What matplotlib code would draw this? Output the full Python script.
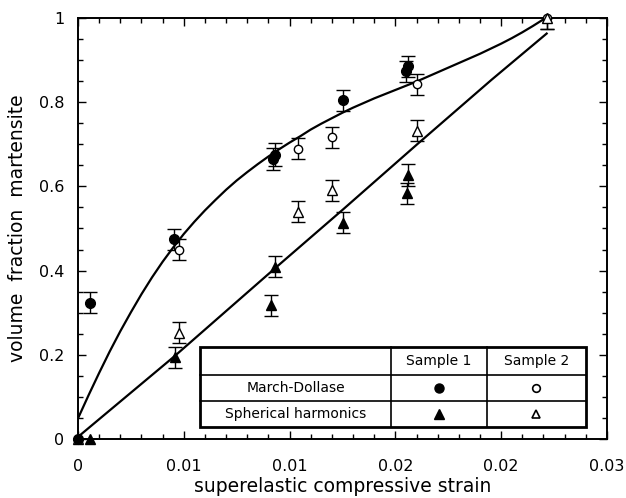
import matplotlib
matplotlib.use("Agg")
import matplotlib.pyplot as plt
import matplotlib.ticker as ticker
from matplotlib.lines import Line2D
from matplotlib.patches import Rectangle

plt.rcParams['font.family'] = ['DejaVu Sans']

# March-Dollase, sample 1 (filled circles)
md1_x = [0.0, 0.00057, 0.00455, 0.0092, 0.0093, 0.01252, 0.01548, 0.01558]
md1_y = [0.0, 0.324, 0.474, 0.665, 0.675, 0.804, 0.873, 0.885]
md1_err = [0.0, 0.025, 0.025, 0.027, 0.027, 0.025, 0.025, 0.025]

# March-Dollase, sample 2 (open circles)
md2_x = [0.0, 0.00479, 0.0104, 0.0120, 0.01603, 0.02215]
md2_y = [0.0, 0.449, 0.689, 0.717, 0.843, 1.0]
md2_err = [0.0, 0.025, 0.025, 0.025, 0.025, 0.025]

# Spherical harmonics, sample 1 (filled triangles)
sh1_x = [0.00057, 0.00457, 0.0091, 0.0093, 0.01252, 0.01559, 0.01556]
sh1_y = [0.0, 0.194, 0.318, 0.409, 0.514, 0.627, 0.584]
sh1_err = [0.0, 0.025, 0.025, 0.025, 0.025, 0.025, 0.025]

# Spherical harmonics, sample 2 (open triangles)
sh2_x = [0.0, 0.00479, 0.0104, 0.0120, 0.01603, 0.02215]
sh2_y = [0.0, 0.252, 0.540, 0.591, 0.732, 1.0]
sh2_err = [0.0, 0.025, 0.025, 0.025, 0.025, 0.025]

# fitted curves
upper_x = [0.0, 0.0005, 0.001, 0.0015, 0.002, 0.0025, 0.003, 0.0035, 0.004,
           0.0045, 0.005, 0.0055, 0.006, 0.0065, 0.007, 0.0075, 0.008, 0.0085,
           0.009, 0.0095, 0.010, 0.0105, 0.011, 0.0115, 0.012, 0.0125, 0.013,
           0.0135, 0.014, 0.0145, 0.015, 0.0155, 0.016, 0.0165, 0.017, 0.0175,
           0.018, 0.0185, 0.019, 0.0195, 0.020, 0.0205, 0.021, 0.0215, 0.0221]
upper_y = [0.049, 0.104, 0.157, 0.208, 0.256, 0.301, 0.344, 0.384, 0.421,
           0.455, 0.487, 0.516, 0.543, 0.568, 0.592, 0.614, 0.634, 0.653,
           0.671, 0.688, 0.704, 0.719, 0.735, 0.749, 0.762, 0.775, 0.787,
           0.798, 0.809, 0.819, 0.829, 0.839, 0.849, 0.860, 0.871, 0.882,
           0.893, 0.904, 0.915, 0.927, 0.939, 0.952, 0.966, 0.981, 1.0]
lower_x = [0.0, 0.00457, 0.0093, 0.01252, 0.01603, 0.01954, 0.02215]
lower_y = [0.005, 0.197, 0.405, 0.545, 0.700, 0.853, 0.963]

x_ticks = [0.0, 0.005, 0.01, 0.015, 0.02, 0.025]
x_tick_labels = ['0', '0.01', '0.01', '0.02', '0.02', '0.03']

fig = plt.figure(figsize=(6.26, 4.98), dpi=100)
ax = fig.add_axes([0.1246, 0.1185, 0.845, 0.8454])

ax.plot(upper_x, upper_y, color='black', lw=1.6, zorder=2)
ax.plot(lower_x, lower_y, color='black', lw=1.6, zorder=2)

ebkw = dict(ls='none', ecolor='black', elinewidth=1.0, capsize=5, capthick=1.0, zorder=3)
sets = [
    (md2_x, md2_y, md2_err, dict(fmt='o', ms=6, mfc='white', mec='black', mew=1.0)),
    (sh2_x, sh2_y, sh2_err, dict(fmt='^', ms=6.5, mfc='white', mec='black', mew=1.0)),
    (md1_x, md1_y, md1_err, dict(fmt='o', ms=7, mfc='black', mec='black')),
    (sh1_x, sh1_y, sh1_err, dict(fmt='^', ms=7, mfc='black', mec='black')),
]
for xs, ys, es, style in sets:
    eb = ax.errorbar(xs, ys, yerr=es, **style, **ebkw)
    eb[0].set_clip_on(False)

ax.set_xlim(0, 0.025)
ax.set_ylim(0, 1)
ax.xaxis.set_major_locator(ticker.FixedLocator(x_ticks))
ax.xaxis.set_major_formatter(ticker.FixedFormatter(x_tick_labels))
ax.xaxis.set_minor_locator(ticker.MultipleLocator(0.001))
ax.yaxis.set_major_locator(ticker.MultipleLocator(0.2))
ax.yaxis.set_minor_locator(ticker.MultipleLocator(0.05))
ax.yaxis.set_major_formatter(ticker.FormatStrFormatter('%g'))
ax.tick_params(which='both', direction='in', top=True, right=True, width=1.0, labelsize=11.5)
ax.tick_params(which='major', length=5.5)
ax.tick_params(which='minor', length=3.5)
ax.tick_params(axis='x', which='major', pad=14.5)
ax.tick_params(axis='y', which='major', pad=10)
for s in ax.spines.values():
    s.set_linewidth(1.4)

ax.set_xlabel('superelastic compressive strain', fontsize=13.5)
ax.set_ylabel('volume  fraction  martensite', fontsize=13.5)
ax.xaxis.set_label_coords(0.5, -0.090)
ax.yaxis.set_label_coords(-0.0955, 0.5)

# legend drawn as a table
tl, tr = 0.2306, 0.960
c1, c2 = 0.5917, 0.773
tt, r1, r2, tb = 0.2178, 0.152, 0.0903, 0.0285
ax.add_patch(Rectangle((tl, tb), tr - tl, tt - tb, transform=ax.transAxes,
                       facecolor='white', edgecolor='black', lw=2.0, zorder=5))
for y in [r1, r2]:
    ax.add_line(Line2D([tl, tr], [y, y], transform=ax.transAxes, color='black', lw=1.2, zorder=6))
for x in [c1, c2]:
    ax.add_line(Line2D([x, x], [tb, tt], transform=ax.transAxes, color='black', lw=1.2, zorder=6))

tkw = dict(transform=ax.transAxes, ha='center', va='center', fontsize=10, zorder=7)
ax.text((c1 + c2) / 2, (tt + r1) / 2, 'Sample 1', **tkw)
ax.text((c2 + tr) / 2, (tt + r1) / 2, 'Sample 2', **tkw)
ax.text((tl + c1) / 2, (r1 + r2) / 2, 'March-Dollase', **tkw)
ax.text((tl + c1) / 2, (r2 + tb) / 2, 'Spherical harmonics', **tkw)

mkw = dict(transform=ax.transAxes, color='black', ls='none', zorder=7)
ax.add_line(Line2D([(c1 + c2) / 2], [(r1 + r2) / 2], marker='o', ms=6.5, mfc='black', **mkw))
ax.add_line(Line2D([(c2 + tr) / 2], [(r1 + r2) / 2], marker='o', ms=5.5, mfc='white', mew=1.2, **mkw))
ax.add_line(Line2D([(c1 + c2) / 2], [(r2 + tb) / 2], marker='^', ms=6.5, mfc='black', **mkw))
ax.add_line(Line2D([(c2 + tr) / 2], [(r2 + tb) / 2], marker='^', ms=5.5, mfc='white', mew=1.2, **mkw))

fig.savefig('out.png', dpi=100)
